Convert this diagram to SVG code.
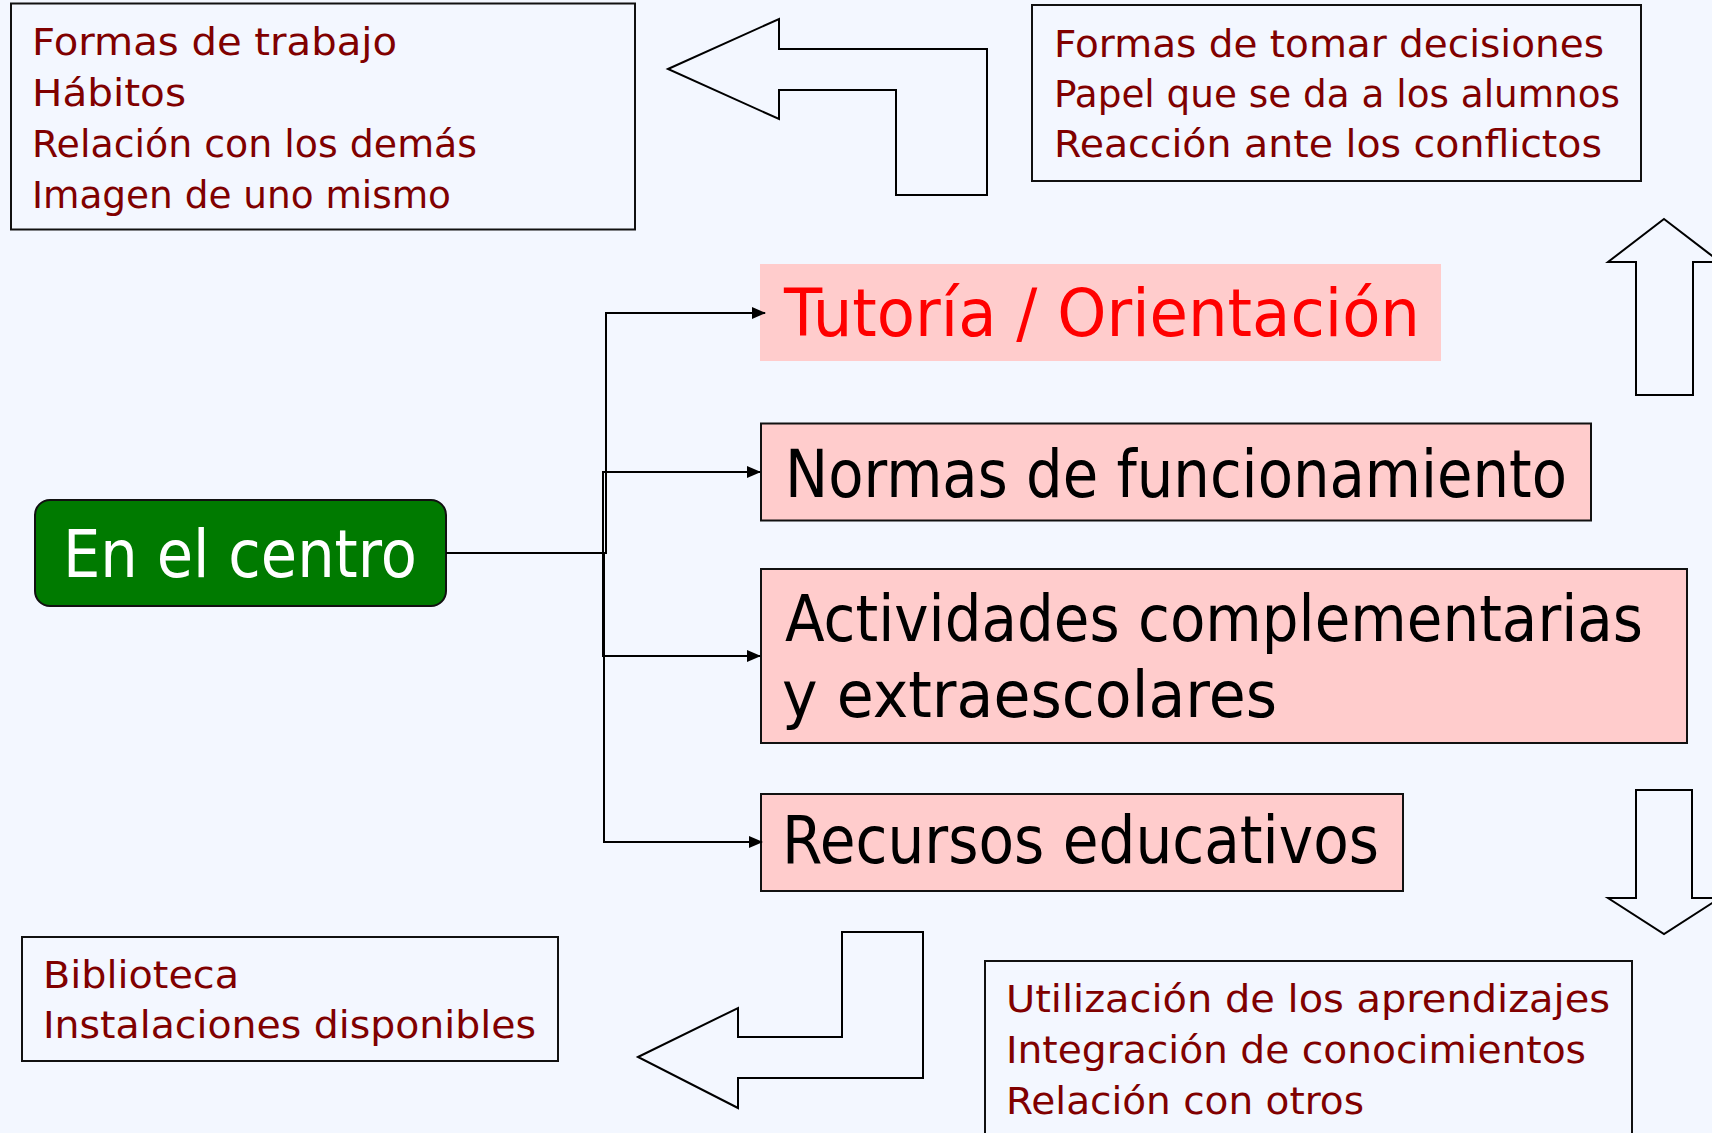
<svg xmlns="http://www.w3.org/2000/svg" width="1712" height="1133" viewBox="0 0 1712 1133">
<style>
.bg{fill:#F3F7FF}
.box{fill:#F3F7FF;stroke:#111;stroke-width:2}
.pink{fill:#FFCCCC;stroke:#111;stroke-width:2}
.pinkn{fill:#FFCCCC;stroke:none}
.arrowshape{fill:#F3F7FF;stroke:#000;stroke-width:2;stroke-linejoin:miter}
.small{font-family:"DejaVu Sans","Liberation Sans",sans-serif;font-size:37px;fill:#800000}
.big{font-family:"DejaVu Sans","Liberation Sans",sans-serif;font-size:66px;fill:#000}
.conn{fill:none;stroke:#000;stroke-width:2}
</style>
<defs>
<marker id="ah" markerWidth="14" markerHeight="14" refX="13" refY="7" orient="auto" markerUnits="userSpaceOnUse">
<path d="M0,1 L14,7 L0,13 z" fill="#000"/>
</marker>
</defs>
<rect class="bg" x="0" y="0" width="1712" height="1133"/>

<g id="box-top-left">
<rect class="box" x="11" y="3.5" width="624" height="226"/>
<text class="small" x="32" y="55" textLength="365" lengthAdjust="spacingAndGlyphs">Formas de trabajo</text>
<text class="small" x="32" y="106" textLength="154" lengthAdjust="spacingAndGlyphs">Hábitos</text>
<text class="small" x="32" y="157" textLength="445" lengthAdjust="spacingAndGlyphs">Relación con los demás</text>
<text class="small" x="32" y="208" textLength="419" lengthAdjust="spacingAndGlyphs">Imagen de uno mismo</text>
</g>

<g id="arrow-top-left">
<path class="arrowshape" d="M668,69 L779,19 L779,49 L987,49 L987,195 L896,195 L896,90 L779,90 L779,119 Z"/>
</g>

<g id="box-top-right">
<rect class="box" x="1032" y="5" width="609" height="176"/>
<text class="small" x="1054" y="57" textLength="550" lengthAdjust="spacingAndGlyphs">Formas de tomar decisiones</text>
<text class="small" x="1054" y="107" textLength="566" lengthAdjust="spacingAndGlyphs">Papel que se da a los alumnos</text>
<text class="small" x="1054" y="157" textLength="548" lengthAdjust="spacingAndGlyphs">Reacción ante los conflictos</text>
</g>

<g id="arrow-up">
<path class="arrowshape" d="M1664,219 L1720,262 L1693,262 L1693,395 L1636,395 L1636,262 L1608,262 Z"/>
</g>

<g id="node-tutoria">
<rect class="pinkn" x="760" y="264" width="681" height="97"/>
<text class="big" x="784" y="336" style="fill:#FF0000" textLength="636" lengthAdjust="spacingAndGlyphs">Tutoría / Orientación</text>
</g>

<g id="node-normas">
<rect class="pink" x="761" y="423.5" width="830" height="97"/>
<text class="big" x="785" y="497" textLength="782" lengthAdjust="spacingAndGlyphs">Normas de funcionamiento</text>
</g>

<g id="node-actividades">
<rect class="pink" x="761" y="569" width="926" height="174"/>
<text class="big" x="785" y="641" style="font-size:64px" textLength="858" lengthAdjust="spacingAndGlyphs">Actividades complementarias</text>
<text class="big" x="782" y="717" style="font-size:64px" textLength="495" lengthAdjust="spacingAndGlyphs">y extraescolares</text>
</g>

<g id="node-recursos">
<rect class="pink" x="761" y="794" width="642" height="97"/>
<text class="big" x="782" y="863" textLength="597" lengthAdjust="spacingAndGlyphs">Recursos educativos</text>
</g>

<g id="node-centro">
<rect x="35" y="500" width="411" height="106" rx="15" ry="15" fill="#007A00" stroke="#111" stroke-width="2"/>
<text class="big" x="63" y="577" style="fill:#FFFFFF" textLength="354" lengthAdjust="spacingAndGlyphs">En el centro</text>
</g>

<g id="connectors">
<path class="conn" d="M446,553 H606 V313 H765" marker-end="url(#ah)"/>
<path class="conn" d="M446,553 H603 V472 H760" marker-end="url(#ah)"/>
<path class="conn" d="M446,553 H603 V656 H760" marker-end="url(#ah)"/>
<path class="conn" d="M446,553 H604 V842 H762" marker-end="url(#ah)"/>
</g>

<g id="arrow-down">
<path class="arrowshape" d="M1636,790 L1692,790 L1692,898 L1720,898 L1664,934 L1608,898 L1636,898 Z"/>
</g>

<g id="box-bottom-left">
<rect class="box" x="22" y="937" width="536" height="124"/>
<text class="small" x="43" y="988" textLength="196" lengthAdjust="spacingAndGlyphs">Biblioteca</text>
<text class="small" x="43" y="1038" textLength="493" lengthAdjust="spacingAndGlyphs">Instalaciones disponibles</text>
</g>

<g id="arrow-bottom-left">
<path class="arrowshape" d="M638,1057 L738,1008 L738,1037 L842,1037 L842,932 L923,932 L923,1078 L738,1078 L738,1108 Z"/>
</g>

<g id="box-bottom-right">
<rect class="box" x="985" y="961" width="647" height="190"/>
<text class="small" x="1006" y="1012" textLength="604" lengthAdjust="spacingAndGlyphs">Utilización de los aprendizajes</text>
<text class="small" x="1006" y="1063" textLength="580" lengthAdjust="spacingAndGlyphs">Integración de conocimientos</text>
<text class="small" x="1006" y="1114" textLength="358" lengthAdjust="spacingAndGlyphs">Relación con otros</text>
</g>
</svg>
